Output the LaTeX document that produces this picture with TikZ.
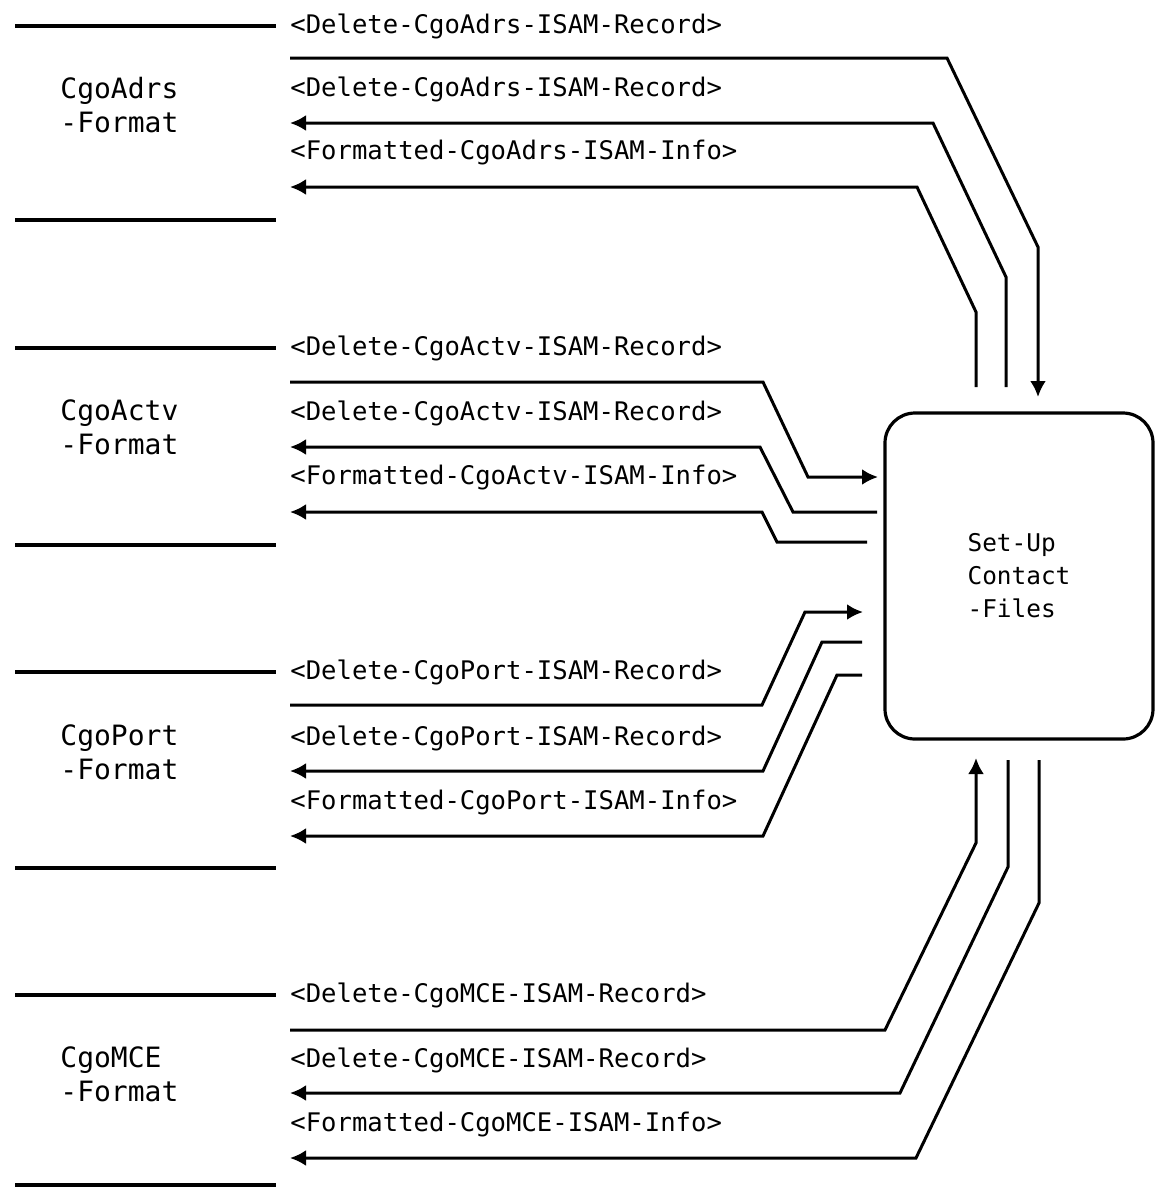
\documentclass[tikz,border=0pt]{standalone}
\usepackage{fontspec}
\setmonofont{DejaVu Sans Mono}
\usetikzlibrary{arrows.meta}

\tikzset{
  >={Latex[length=8pt,width=8pt]},
  storeline/.style={line width=1.6pt},
  flow/.style={line width=1.5pt},
  flowtext/.style={anchor=west, inner sep=0pt, font=\ttfamily\fontsize{12.8}{15}\selectfont},
  storename/.style={anchor=west, inner sep=0pt, align=left, font=\ttfamily\fontsize{14}{17}\selectfont},
  process/.style={draw, line width=1.6pt, rounded corners=15pt, minimum width=134pt, minimum height=163pt,
    align=left, font=\ttfamily\fontsize{12.2}{16.5}\selectfont}
}

\begin{document}
\begin{tikzpicture}[x=0.5pt,y=-0.5pt]
\useasboundingbox (0,0) rectangle (1156,1191);

% Process
\node[process] (setup) at (1019,576) {Set-Up\\Contact\\-Files};

% Data store CgoAdrs
\draw[storeline] (15,26) -- (276,26);
\draw[storeline] (15,220) -- (276,220);
\node[storename] (adrs) at (60,105) {CgoAdrs\\-Format};

% Flows of CgoAdrs
\node[flowtext] (adrs-t1) at (290,26) {<Delete-CgoAdrs-ISAM-Record>};
\node[flowtext] (adrs-t2) at (290,89) {<Delete-CgoAdrs-ISAM-Record>};
\node[flowtext] (adrs-t3) at (290,153) {<Formatted-CgoAdrs-ISAM-Info>};
\draw[flow,->] (290,58) -- (947,58) -- (1038,247) -- (1038,397);
\draw[flow,->] (1006,387) -- (1006,277) -- (933,123) -- (290,123);
\draw[flow,->] (976,387) -- (976,312) -- (917,187) -- (290,187);

% Data store CgoActv
\draw[storeline] (15,348) -- (276,348);
\draw[storeline] (15,545) -- (276,545);
\node[storename] (actv) at (60,427) {CgoActv\\-Format};

% Flows of CgoActv
\node[flowtext] (actv-t1) at (290,348) {<Delete-CgoActv-ISAM-Record>};
\node[flowtext] (actv-t2) at (290,413) {<Delete-CgoActv-ISAM-Record>};
\node[flowtext] (actv-t3) at (290,478) {<Formatted-CgoActv-ISAM-Info>};
\draw[flow,->] (290,382) -- (763,382) -- (808,477) -- (878,477);
\draw[flow,->] (877,512) -- (793,512) -- (760,447) -- (290,447);
\draw[flow,->] (867,542) -- (777,542) -- (762,512) -- (290,512);

% Data store CgoPort
\draw[storeline] (15,672) -- (276,672);
\draw[storeline] (15,868) -- (276,868);
\node[storename] (port) at (60,752) {CgoPort\\-Format};

% Flows of CgoPort
\node[flowtext] (port-t1) at (290,672) {<Delete-CgoPort-ISAM-Record>};
\node[flowtext] (port-t2) at (290,738) {<Delete-CgoPort-ISAM-Record>};
\node[flowtext] (port-t3) at (290,803) {<Formatted-CgoPort-ISAM-Info>};
\draw[flow,->] (290,705) -- (762,705) -- (805,612) -- (863,612);
\draw[flow,->] (862,642) -- (822,642) -- (763,771) -- (290,771);
\draw[flow,->] (862,675) -- (837,675) -- (763,836) -- (290,836);

% Data store CgoMCE
\draw[storeline] (15,995) -- (276,995);
\draw[storeline] (15,1185) -- (276,1185);
\node[storename] (mce) at (60,1074) {CgoMCE\\-Format};

% Flows of CgoMCE
\node[flowtext] (mce-t1) at (290,995) {<Delete-CgoMCE-ISAM-Record>};
\node[flowtext] (mce-t2) at (290,1060) {<Delete-CgoMCE-ISAM-Record>};
\node[flowtext] (mce-t3) at (290,1125) {<Formatted-CgoMCE-ISAM-Info>};
\draw[flow,->] (290,1030) -- (885,1030) -- (976,843) -- (976,758);
\draw[flow,->] (1008,760) -- (1008,867) -- (900,1093) -- (290,1093);
\draw[flow,->] (1039,760) -- (1039,903) -- (916,1158) -- (290,1158);

\end{tikzpicture}
\end{document}
